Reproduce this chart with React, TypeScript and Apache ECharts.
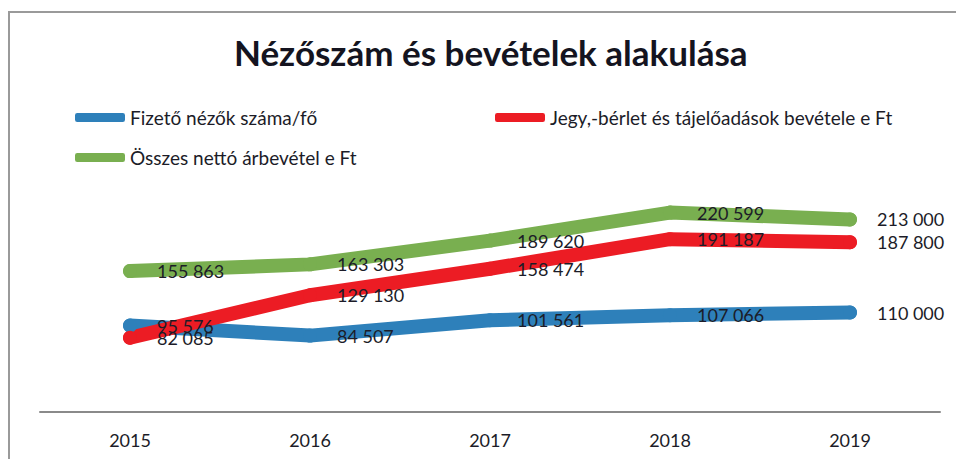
import React, { useEffect, useRef } from "react";
import * as echarts from "echarts";

const years = ["2015", "2016", "2017", "2018", "2019"];
const seriesNames = [
  "Fizető nézők száma/fő",
  "Jegy,-bérlet és tájelőadások bevétele e Ft",
  "Összes nettó árbevétel e Ft",
];
const viewers = [95576, 84507, 101561, 107066, 110000];
const ticketRevenue = [82085, 129130, 158474, 191187, 187800];
const netRevenue = [155863, 163303, 189620, 220599, 213000];
const colors = ["#2E80BA", "#EC1C24", "#79AF50"];

const fmt = (v: number) => {
  const s = String(Math.round(v));
  return s.replace(/\B(?=(\d{3})+(?!\d))/g, " ");
};

const FONT = "Lato";

export default function App() {
  const ref = useRef<HTMLDivElement>(null);
  useEffect(() => {
    document.body.style.margin = "0";
    if (!ref.current) return;
    const chart = echarts.init(ref.current, undefined, { renderer: "svg" });
    const values = [viewers, ticketRevenue, netRevenue];
    const legendBase = {
      orient: "horizontal" as const,
      icon: "roundRect",
      itemWidth: 50,
      itemHeight: 9,
      padding: 0,
      textStyle: { fontFamily: FONT, fontSize: 19, color: "#1c1c28" },
      selectedMode: false,
    };
    chart.setOption({
      animation: false,
      backgroundColor: "#ffffff",
      title: {
        text: "Nézőszám és bevételek alakulása",
        left: 234,
        top: 34,
        padding: 0,
        textStyle: { fontFamily: FONT, fontSize: 35, fontWeight: "bold", color: "#141420" },
      },
      legend: [
        { ...legendBase, left: 75, top: 108, data: [seriesNames[0]] },
        { ...legendBase, left: 495, top: 108, data: [seriesNames[1]] },
        { ...legendBase, left: 75, top: 148, data: [seriesNames[2]] },
      ],
      grid: { left: 40, right: 16, top: 186, bottom: 47 },
      xAxis: {
        type: "category",
        data: years,
        axisLine: { lineStyle: { color: "#8a8a8a", width: 2 } },
        axisTick: { show: false },
        axisLabel: { fontFamily: FONT, fontSize: 18, color: "#1c1c28", margin: 19 },
      },
      yAxis: {
        type: "value",
        min: 0,
        max: 250000,
        show: false,
        splitLine: { show: false },
      },
      series: seriesNames.map((name, i) => ({
        name,
        type: "line",
        data: values[i],
        symbol: "circle",
        symbolSize: 14,
        itemStyle: { color: colors[i] },
        lineStyle: { color: colors[i], width: 14, cap: "round", join: "round" },
        label: {
          show: true,
          position: "right",
          distance: 20,
          fontFamily: FONT,
          fontSize: 18,
          color: "#1c1c28",
          formatter: (p: any) => fmt(p.value),
        },
      })),
      graphic: [
        {
          type: "rect",
          shape: { x: 9, y: 12, width: 960, height: 460 },
          style: { fill: "none", stroke: "#9a9a9a", lineWidth: 2 },
          silent: true,
        },
      ],
    });
    return () => chart.dispose();
  }, []);
  return <div ref={ref} style={{ width: 956, height: 459 }} />;
}
